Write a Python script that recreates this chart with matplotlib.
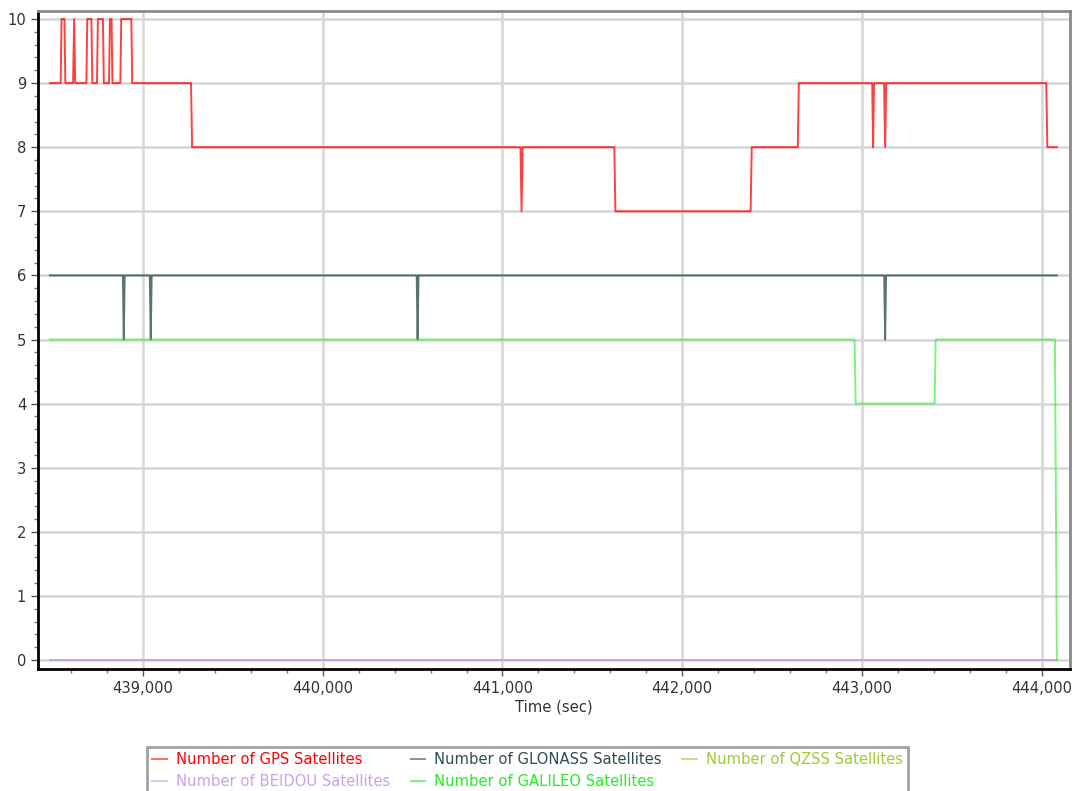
import matplotlib.pyplot as plt
from matplotlib.ticker import FuncFormatter, MultipleLocator

# (time in sec, number of satellites) breakpoints
gps = [(438483, 9), (438543, 9), (438548, 10), (438564, 10), (438569, 9),
       (438612, 9), (438618, 10), (438624, 9), (438686, 9), (438691, 10),
       (438714, 10), (438719, 9), (438745, 9), (438750, 10), (438778, 10),
       (438783, 9), (438812, 9), (438817, 10), (438826, 10), (438831, 9),
       (438875, 9), (438880, 10), (438936, 10), (438941, 9), (439268, 9),
       (439274, 8), (441100, 8), (441106, 7), (441112, 8), (441622, 8),
       (441628, 7), (442380, 7), (442386, 8), (442642, 8), (442648, 9),
       (443056, 9), (443061, 8), (443066, 9), (443122, 9), (443128, 8),
       (443134, 9), (444024, 9), (444030, 8), (444083, 8)]
glonass = [(438483, 6), (438889, 6), (438894, 5), (438899, 6), (439039, 6),
           (439044, 5), (439049, 6), (440523, 6), (440528, 5), (440533, 6),
           (443123, 6), (443128, 5), (443133, 6), (444083, 6)]
galileo = [(438483, 5), (442958, 5), (442964, 4), (443403, 4), (443409, 5),
           (444072, 5), (444083, 0)]
qzss = [(438483, 0), (444083, 0)]
beidou = [(438483, 0), (444083, 0)]

fig = plt.figure(figsize=(10.74, 7.91), dpi=100)
ax = fig.add_axes([38 / 1074, 1 - 669 / 791, (1070 - 38) / 1074, (669 - 11) / 791])

def draw(data, color, alpha, label):
    t, n = zip(*data)
    line, = ax.plot(t, n, color=color, alpha=alpha, lw=1.4, label=label)
    return line

h_gps = draw(gps, '#ff0000', 0.75, 'Number of GPS Satellites')
h_qzss = draw(qzss, '#9acd32', 0.8, 'Number of QZSS Satellites')
h_bei = draw(beidou, '#c9a0f0', 0.9, 'Number of BEIDOU Satellites')
h_glo = draw(glonass, '#2f4f4f', 0.8, 'Number of GLONASS Satellites')
h_gal = draw(galileo, '#22ee22', 0.6, 'Number of GALILEO Satellites')

ax.set_xlim(438417, 444156)
ax.set_ylim(-0.14, 10.125)
ax.xaxis.set_major_locator(MultipleLocator(1000))
ax.xaxis.set_minor_locator(MultipleLocator(200))
ax.yaxis.set_major_locator(MultipleLocator(1))
ax.yaxis.set_minor_locator(MultipleLocator(0.2))
ax.xaxis.set_major_formatter(FuncFormatter(lambda v, p: f'{v:,.0f}'))
ax.grid(True, which='major', color='#d6d6d6', lw=1.8)
ax.set_axisbelow(True)

ax.tick_params(which='major', length=5, width=1, color='#555555',
               labelsize=10.6, labelcolor='#333333')
ax.tick_params(which='minor', length=3, width=1, color='#777777')
for s in ['left', 'bottom']:
    ax.spines[s].set_color('black')
    ax.spines[s].set_linewidth(2)
for s in ['top', 'right']:
    ax.spines[s].set_color('#8a8a8a')
    ax.spines[s].set_linewidth(2)

ax.set_xlabel('Time (sec)', fontsize=10.6, color='#333333', labelpad=3)

handles = [h_gps, h_bei, h_glo, h_gal, h_qzss]
leg = fig.legend(handles=handles, loc='upper left', ncol=3,
                 bbox_to_anchor=(147 / 1074, 1 - 747 / 791),
                 fontsize=10.6, frameon=True, fancybox=False,
                 handlelength=1.0, handletextpad=0.6, columnspacing=1.4,
                 labelspacing=0.45, borderpad=0.35, borderaxespad=0)
leg.get_frame().set_edgecolor('#8a8a8a')
leg.get_frame().set_linewidth(2)
for line, text in zip(leg.get_lines(), leg.get_texts()):
    line.set_alpha(0.6)
    text.set_color(line.get_color())

fig.savefig('out.png', dpi=100)
